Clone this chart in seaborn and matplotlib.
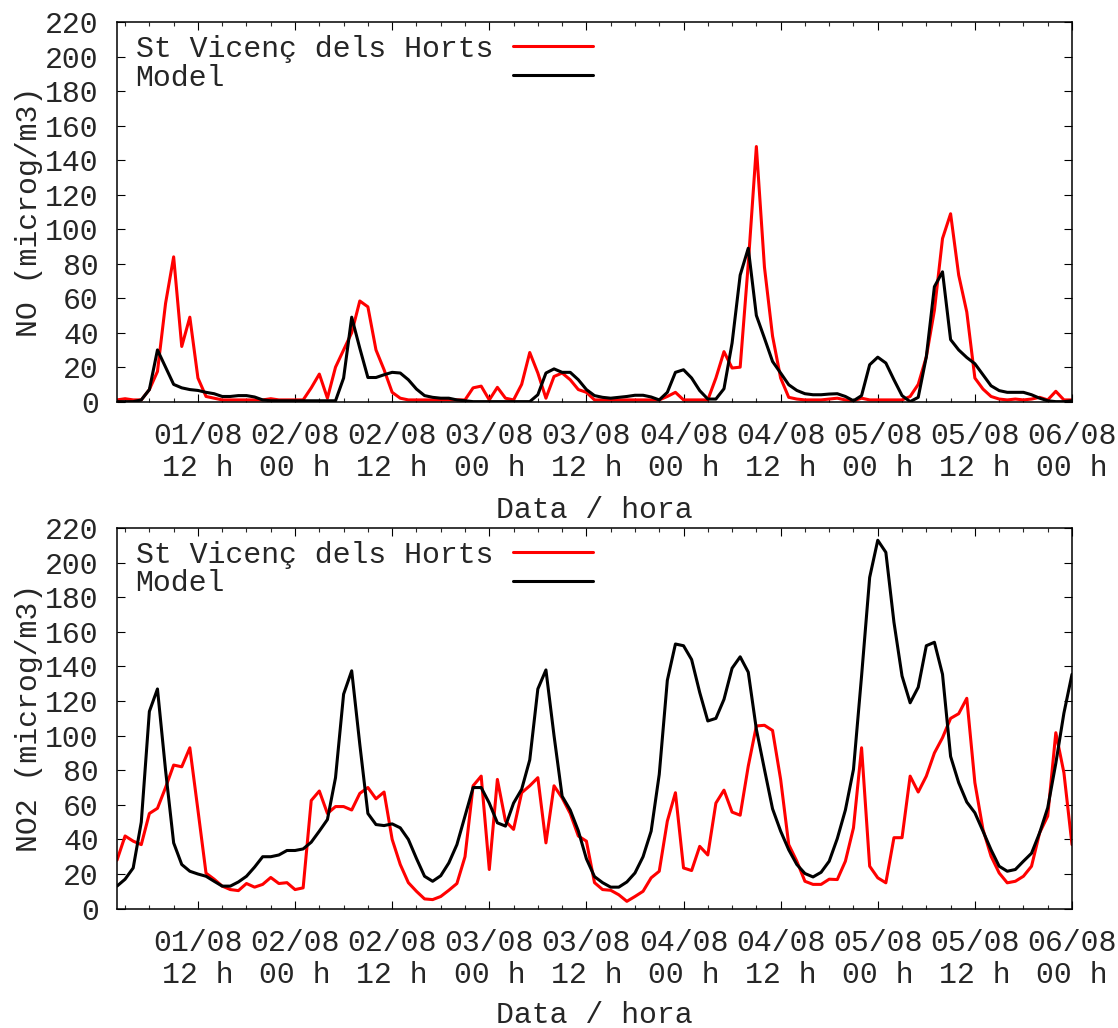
import numpy as np
import pandas as pd
import matplotlib
matplotlib.use("Agg")
import matplotlib.pyplot as plt
import matplotlib.dates as mdates
from matplotlib.lines import Line2D
import seaborn as sns

# ---------------- data (hourly, starting 01/08 02 h) ----------------
start_time = "2010-08-01 02:00"

no_obs = [1, 1.7, 1, 1, 7, 17.5, 57, 84, 32, 49,
          13.7, 3, 2, 1, 1, 1, 1, 1, 1, 1.7,
          1, 1, 1, 1, 8, 16, 2, 20, 30, 40,
          58.4, 55, 30, 18.5, 5.4, 2, 1, 1, 1, 1,
          1, 1, 1, 1, 8, 9, 1, 8.3, 2, 1,
          10, 28.5, 16.6, 2, 14.6, 16.6, 12.7, 7, 5.4, 1,
          1, 1, 1, 1, 1, 1, 1, 1, 3, 5.4,
          1, 1, 1, 1, 13.7, 29, 19.5, 20, 80, 148,
          78, 38, 13.7, 2.5, 1.5, 1, 1, 1, 1.5, 2,
          1, 0.5, 2, 1, 1, 1, 1, 1, 3, 10,
          26, 53, 94.6, 109, 73.4, 52, 13.7, 7.3, 3, 1.5,
          1, 1.5, 1, 1.5, 2.5, 1, 6, 1, 1]

no_model = [0, 0, 0, 1, 7, 30, 20, 10, 8, 7,
            6.5, 5.4, 4.6, 3, 3, 3.5, 3.5, 2.7, 1, 0.5,
            0.5, 0.5, 0.5, 0.5, 0.5, 0.5, 0.5, 0.5, 13.7, 49,
            31, 14, 14, 15.6, 17, 16.6, 12.7, 7.3, 3.5, 2.5,
            2, 2, 1, 0.5, 0, 0, 0, 0, 0, 0,
            0, 0, 4, 16.6, 19, 17, 17, 12.7, 7, 3.5,
            2.5, 2, 2.5, 3, 3.7, 3.7, 2.7, 1, 5.4, 17,
            18.5, 13.7, 6.4, 1.5, 1.5, 7.5, 34, 73.4, 89, 50,
            36.8, 23.3, 16.6, 9.8, 6.5, 4.6, 4, 4, 4.4, 4.6,
            3, 0.5, 3.5, 21.4, 25.8, 22.4, 12.7, 3.5, 0, 2.5,
            26, 66.7, 75.3, 36, 30, 25.6, 22, 15.6, 9.2, 6.4,
            5.4, 5.4, 5.4, 4, 2, 0.5, 0, 0, 0.5]

no2_obs = [28, 42, 39, 37, 55, 58, 70, 83, 82, 93,
           57, 20.5, 17, 13, 11, 10.4, 14.5, 12.4, 14, 18,
           14.5, 15, 11, 12, 62.5, 68, 55, 59, 59, 57,
           66.6, 70, 63.5, 67.4, 40, 25.5, 15, 10, 5.6, 5.2,
           7, 10.6, 14.5, 30, 71, 76.6, 22.6, 74.7, 50.6, 45.8,
           67, 71, 75.7, 38, 71, 64, 55, 42, 39, 15,
           11, 10.6, 8, 4.2, 7, 10, 17.8, 21.6, 50.6, 67,
           23.5, 22, 36, 31, 61, 68.5, 55.8, 54, 82.4, 105.6,
           106, 103, 74.7, 37, 27.4, 15.8, 14, 14, 17, 16.8,
           27.4, 46.7, 93, 24.5, 17.8, 14.9, 41, 41, 76.6, 67.4,
           76.6, 90, 98.8, 110, 112.7, 121.6, 72.8, 45.8, 30.3, 20.6,
           14.9, 15.8, 18.7, 24.5, 43.8, 53.5, 101.7, 78.6, 37]

no2_model = [13, 17, 23.5, 50, 114, 127, 80, 38, 25.5, 21.6,
             20, 18.7, 15.8, 13, 13, 15.4, 18.7, 24, 30, 30,
             31, 33.6, 33.6, 34.5, 38.4, 44.8, 51.5, 75.7, 124, 137.5,
             95, 55, 48.6, 48, 49, 46.7, 40, 29, 18.7, 15.8,
             19, 26.4, 37, 53.5, 70, 70, 61, 49.6, 47.7, 61,
             69, 86, 127, 138, 100, 65, 57, 45, 28.8, 18.5,
             15, 12.4, 12.4, 15.4, 20.6, 30, 44.8, 77.6, 132, 153,
             152, 144, 125, 108.5, 110, 121, 139, 145.6, 136.7, 103.7,
             80.5, 57.7, 44.8, 34, 25.5, 20.3, 18.3, 21, 27.4, 40.5,
             57, 80.5, 134.5, 191.5, 213, 206, 165.6, 134.5, 119, 128,
             152, 154, 135.5, 88, 72.8, 61.6, 55.4, 44.8, 34, 24.5,
             21.6, 22.6, 27.4, 32, 43.8, 58.3, 84, 113, 135.5]

obs_label = "St Vicenç dels Horts"
model_label = "Model"
ylabels = ["NO (microg/m3)", "NO2 (microg/m3)"]
xlabel = "Data / hora"
y_ticks = list(range(0, 221, 20))

times = pd.date_range(start_time, periods=len(no_obs), freq="h")

# ---------------- style ----------------
sns.set_style("ticks")
plt.rcParams["font.family"] = ["Liberation Mono", "DejaVu Sans Mono"]
FS = 21.5

fig = plt.figure(figsize=(11.18, 10.28), dpi=100)
ax_top = fig.add_axes([0.10465, 0.6093, 0.8542, 0.3689])
ax_bot = fig.add_axes([0.10465, 0.11615, 0.8542, 0.3701])

panels = [(ax_top, no_obs, no_model, ylabels[0], -0.25),
          (ax_bot, no2_obs, no2_model, ylabels[1], -0.243)]

for ax, obs, mod, ylab, xlab_y in panels:
    df = pd.DataFrame({"time": times, "obs": obs, "model": mod})
    sns.lineplot(data=df, x="time", y="obs", ax=ax, color="#ff0000",
                 linewidth=2.2, label=obs_label, legend=False)
    sns.lineplot(data=df, x="time", y="model", ax=ax, color="black",
                 linewidth=2.2, label=model_label, legend=False)
    ax.set_xlim(times[0], times[-1])
    ax.set_ylim(0, 220)
    ax.set_yticks(y_ticks)
    ax.xaxis.set_major_locator(mdates.HourLocator(byhour=[0, 12]))
    ax.xaxis.set_minor_locator(mdates.HourLocator(byhour=range(0, 24, 3)))
    ax.xaxis.set_major_formatter(mdates.DateFormatter("%d/%m\n%H h"))
    ax.tick_params(axis="both", which="major", direction="in", length=5.8,
                   width=0.8, top=True, right=True, labelsize=FS, color="black")
    ax.tick_params(axis="x", which="major", pad=15)
    ax.tick_params(axis="y", which="major", pad=13)
    ax.tick_params(axis="x", which="minor", direction="in", length=3,
                   width=0.8, top=True, bottom=True)
    for s in ax.spines.values():
        s.set_linewidth(1.1)
        s.set_color("black")
    ax.set_xlabel(xlabel, fontsize=FS)
    ax.set_ylabel(ylab, fontsize=FS)
    ax.yaxis.set_label_coords(-0.077, 0.5)
    ax.xaxis.set_label_coords(0.5, xlab_y)
    ax.grid(False)

    # legend: text left-justified, line samples on the right (gnuplot style)
    blank = Line2D([], [], linestyle="none")
    red_h, black_h = ax.lines[0], ax.lines[1]
    ax.legend(handles=[blank, blank, red_h, black_h],
              labels=[obs_label, model_label, "", ""],
              ncol=2, loc="upper left", bbox_to_anchor=(-0.0738, 0.967),
              frameon=False, fontsize=FS, handlelength=2.68,
              handletextpad=0.3, columnspacing=0.68, labelspacing=0.02,
              borderpad=0, borderaxespad=0)

fig.canvas.draw()
for ax in (ax_top, ax_bot):
    for lbl in ax.get_xticklabels():
        lbl.set_linespacing(1.15)

fig.savefig("out.png", dpi=100)
